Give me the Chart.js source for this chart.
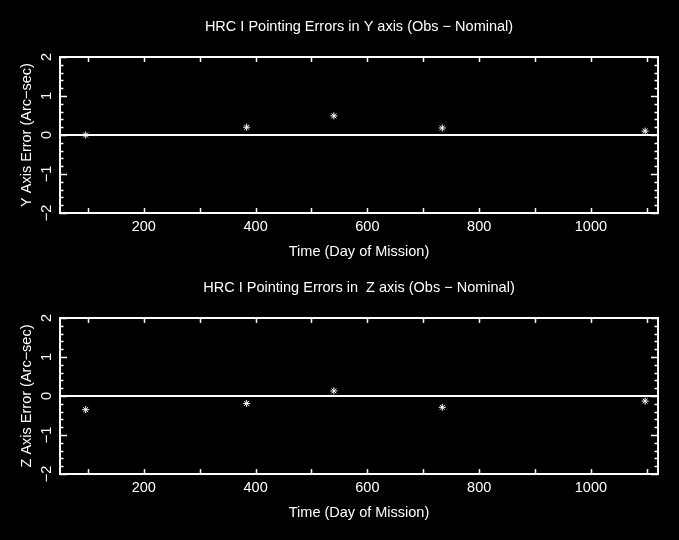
<!DOCTYPE html>
<html>
<head>
<meta charset="utf-8">
<script src="https://cdn.jsdelivr.net/npm/chart.js"></script>
<style>
  body { margin: 0; background: #000; }
  .panel { position: absolute; left: 0; width: 679px; height: 270px; }
  #top { top: 0; }
  #bottom { top: 261px; }
</style>
</head>
<body>
<div class="panel" id="top"><canvas id="yChart"></canvas></div>
<div class="panel" id="bottom"><canvas id="zChart"></canvas></div>
<script>
// day of mission for each observation
const days = [96, 384, 540, 734, 1097];
// pointing error in arc-sec
const yErrors = [0.0, 0.2, 0.49, 0.18, 0.1];
const zErrors = [-0.35, -0.19, 0.13, -0.29, -0.13];

const xMin = 50, xMax = 1120;
const yMin = -2, yMax = 2;

const FONT = 'Liberation Sans';
const FS = 14.5;

// PGPLOT style box: frame with inward ticks on all four sides
const framePlugin = {
  id: 'frame',
  afterDatasetsDraw(chart) {
    const { ctx, chartArea: a, scales: { x, y } } = chart;
    ctx.save();
    ctx.strokeStyle = '#fff';
    ctx.lineWidth = 2;
    ctx.strokeRect(a.left, a.top, a.right - a.left, a.bottom - a.top);
    ctx.lineWidth = 1.5;
    ctx.beginPath();
    x.ticks.forEach(t => {
      if (t.value % 100 !== 0) return;
      const px = Math.round(x.getPixelForValue(t.value)) + 0.5;
      ctx.moveTo(px, a.bottom); ctx.lineTo(px, a.bottom - 5);
      ctx.moveTo(px, a.top); ctx.lineTo(px, a.top + 5);
    });
    y.ticks.forEach(t => {
      const major = Math.abs(t.value - Math.round(t.value)) < 1e-6;
      const len = major ? 7 : 3.5;
      const py = Math.round(y.getPixelForValue(t.value)) + 0.5;
      ctx.moveTo(a.left, py); ctx.lineTo(a.left + len, py);
      ctx.moveTo(a.right, py); ctx.lineTo(a.right - len, py);
    });
    ctx.stroke();
    ctx.restore();
  }
};

function makeChart(id, values, title, yTitle) {
  const ctx = document.getElementById(id).getContext('2d');
  return new Chart(ctx, {
    type: 'scatter',
    data: {
      datasets: [{
        data: days.map((d, i) => ({ x: d, y: values[i] })),
        pointStyle: 'star',
        radius: 3.5,
        borderColor: '#fff',
        backgroundColor: '#fff',
        borderWidth: 1
      }]
    },
    options: {
      responsive: true,
      maintainAspectRatio: false,
      animation: false,
      layout: { padding: { left: 0, right: 21, top: 0, bottom: 0 } },
      plugins: {
        legend: { display: false },
        tooltip: { enabled: false },
        title: {
          display: true,
          text: title,
          color: '#fff',
          fullSize: false,
          font: { family: FONT, size: FS, weight: 'normal' },
          padding: { top: 18.3, bottom: 21.3 }
        }
      },
      scales: {
        x: {
          type: 'linear',
          min: xMin,
          max: xMax,
          afterFit: s => { s.height = 57; },
          grid: { drawOnChartArea: false, drawTicks: false },
          border: { display: false },
          ticks: {
            stepSize: 100,
            includeBounds: false,
            autoSkip: false,
            maxRotation: 0,
            padding: 5,
            color: '#fff',
            font: { family: FONT, size: FS },
            callback: v => (v % 200 === 0 ? String(v) : '')
          },
          title: {
            display: true,
            text: 'Time (Day of Mission)',
            color: '#fff',
            font: { family: FONT, size: FS },
            padding: { top: 0, bottom: 9.6 }
          }
        },
        y: {
          min: yMin,
          max: yMax,
          afterFit: s => { s.width = 60; },
          grid: {
            drawTicks: false,
            color: c => (c.tick && c.tick.value === 0 ? '#fff' : 'transparent'),
            lineWidth: 2
          },
          border: { display: false },
          ticks: {
            stepSize: 0.2,
            autoSkip: false,
            minRotation: 90,
            crossAlign: 'center',
            padding: 5,
            color: '#fff',
            font: { family: FONT, size: FS },
            callback: v => {
              if (Math.abs(v - Math.round(v)) > 1e-6) return '';
              const n = Math.round(v);
              return n < 0 ? '\u2212' + Math.abs(n) : String(n);
            }
          },
          title: {
            display: true,
            text: yTitle,
            color: '#fff',
            font: { family: FONT, size: FS },
            padding: { top: 18.3, bottom: 0 }
          }
        }
      }
    },
    plugins: [framePlugin]
  });
}

makeChart('yChart', yErrors, 'HRC I Pointing Errors in Y axis (Obs \u2212 Nominal)', 'Y Axis Error (Arc\u2212sec)');
makeChart('zChart', zErrors, 'HRC I Pointing Errors in  Z axis (Obs \u2212 Nominal)', 'Z Axis Error (Arc\u2212sec)');
</script>
</body>
</html>
